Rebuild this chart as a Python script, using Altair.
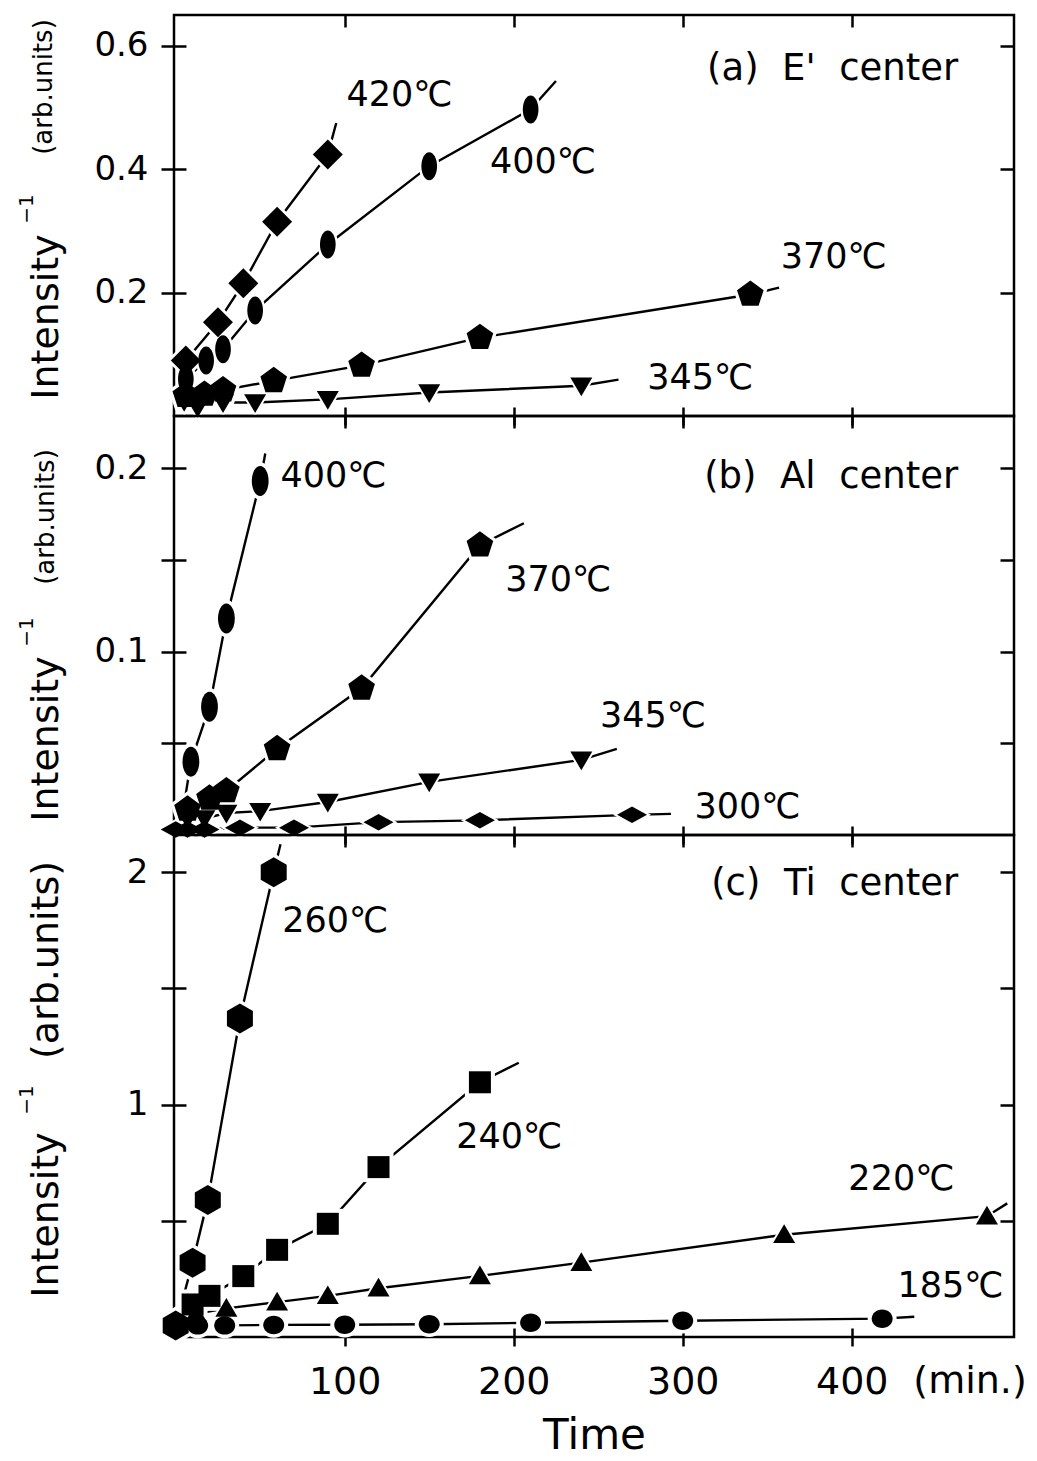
import altair as alt
import pandas as pd

FONT = "DejaVu Sans"

# ---------------- data ----------------
# x = time (min), y = Intensity^-1 (arb. units)

# (a) E' center
a420_x = [6, 25, 40, 60, 90]
a420_y = [0.090, 0.152, 0.215, 0.315, 0.424]
a400_x = [6, 18, 28, 47, 90, 150, 210]
a400_y = [0.060, 0.090, 0.108, 0.171, 0.278, 0.405, 0.497]
a370_x = [6, 17, 28, 58, 110, 180, 340]
a370_y = [0.033, 0.035, 0.042, 0.057, 0.082, 0.127, 0.197]
a345_x = [5, 13, 28, 47, 90, 150, 240]
a345_y = [0.024, 0.014, 0.022, 0.022, 0.027, 0.038, 0.049]
a_end = {"420": (95, 0.475), "400": (225, 0.543), "370": (357, 0.208), "345": (262, 0.059)}

# (b) Al center
b400_x = [9, 20, 30, 50]
b400_y = [0.040, 0.070, 0.118, 0.193]
b370_x = [7, 20, 30, 60, 110, 180]
b370_y = [0.014, 0.020, 0.024, 0.047, 0.080, 0.158]
b345_x = [7, 17, 30, 50, 90, 150, 240]
b345_y = [0.009, 0.009, 0.012, 0.013, 0.018, 0.029, 0.041]
b300_x = [0, 7, 17, 38, 70, 120, 180, 270]
b300_y = [0.003, 0.003, 0.003, 0.004, 0.004, 0.007, 0.008, 0.011]
b_start = {"400": (4, 0.011)}
b_end = {"400": (53, 0.208), "370": (206, 0.170), "345": (261, 0.047), "300": (293, 0.0115)}

# (c) Ti center
c260_x = [0, 10, 19, 38, 58]
c260_y = [0.05, 0.32, 0.59, 1.37, 2.00]
c240_x = [10, 20, 40, 60, 90, 120, 180]
c240_y = [0.14, 0.177, 0.262, 0.375, 0.487, 0.731, 1.096]
c220_x = [12, 30, 60, 90, 120, 180, 240, 360, 480]
c220_y = [0.10, 0.123, 0.15, 0.177, 0.21, 0.263, 0.32, 0.44, 0.52]
c185_x = [0, 13, 29, 58, 100, 150, 210, 300, 418]
c185_y = [0.05, 0.05, 0.05, 0.052, 0.053, 0.055, 0.061, 0.070, 0.079]
c_end = {"260": (62, 2.12), "240": (203, 1.18), "220": (492, 0.575), "185": (437, 0.087)}

# temperature labels (text, x, y)
a_lab = [("420℃", 101, 0.52), ("400℃", 186, 0.412), ("370℃", 358, 0.258), ("345℃", 279, 0.061)]
b_lab = [("400℃", 62, 0.196), ("370℃", 195, 0.139), ("345℃", 251, 0.065), ("300℃", 307, 0.015)]
c_lab = [("260℃", 63, 1.79), ("240℃", 166, 0.86), ("220℃", 398, 0.68), ("185℃", 427, 0.22)]

NB = "\u00a0"
a_title = [(f"(a){NB}{NB}E'{NB}{NB}center", 463, 0.562)]
b_title = [(f"(b){NB}{NB}Al{NB}{NB}center", 463, 0.195)]
c_title = [(f"(c){NB}{NB}Ti{NB}{NB}center", 463, 1.95)]

x_ticks = [100, 200, 300, 400]
a_yticks = [0.2, 0.4, 0.6]
b_yticks = [0.05, 0.1, 0.15, 0.2]
c_yticks = [0.5, 1.0, 1.5, 2.0]

# ---------------- styles ----------------
SHAPES = {
    "diamond": "M0,-1L1,0L0,1L-1,0Z",
    "flatdiamond": "M-1,0L0,-0.55L1,0L0,0.55Z",
    "ellipse": "M0,-1A0.56,1,0,1,1,0,1A0.56,1,0,1,1,0,-1Z",
    "pentagon": "M0,-1L0.951,-0.309L0.588,0.809L-0.588,0.809L-0.951,-0.309Z",
    "tridown": "M-1,-0.75L1,-0.75L0,0.95Z",
    "triup": "M-1,0.75L1,0.75L0,-0.95Z",
    "hexagon": "M0,-1L0.866,-0.5L0.866,0.5L0,1L-0.866,0.5L-0.866,-0.5Z",
    "square": "M-1,-1L1,-1L1,1L-1,1Z",
    "circle": "M-1,0A1,0.88,0,1,1,1,0A1,0.88,0,1,1,-1,0Z",
}

W = 840
XDOM = [-1, 496]


def series(name, xs, ys, shape, w, start=None, end=None):
    return dict(name=name, x=xs, y=ys, shape=shape, w=w, start=start, end=end)


def build(sers):
    pts, lns = [], []
    for s in sers:
        for xi, yi in zip(s["x"], s["y"]):
            pts.append(dict(series=s["name"], t=xi, v=yi, shape=SHAPES[s["shape"]],
                            size=s["w"] ** 2, halo=(s["w"] + 8) ** 2))
        seq = ([s["start"]] if s["start"] else []) + list(zip(s["x"], s["y"])) + \
              ([s["end"]] if s["end"] else [])
        for k, (xi, yi) in enumerate(seq):
            lns.append(dict(series=s["name"], t=xi, v=yi, ord=k))
    return pd.DataFrame(pts), pd.DataFrame(lns)


def panel(sers, labels, ptitle, H, ymax, yvals, ylab_expr, bottom, ytitle, extra=None):
    pts, lns = build(sers)
    xs = alt.Scale(domain=XDOM, nice=False, zero=False)
    ys = alt.Scale(domain=[0, ymax], nice=False, zero=False)
    common = dict(tickColor="black", tickWidth=2.5, domain=False, grid=False)
    x_main = alt.Axis(values=x_ticks, orient="bottom", tickSize=9, labels=bottom,
                      labelFont=FONT, labelFontSize=38, labelColor="black", labelPadding=17,
                      title=("Time" if bottom else None), titleFont=FONT, titleFontSize=42,
                      titleFontWeight="normal", titleColor="black", titlePadding=14, **common)
    x_in_b = alt.Axis(values=x_ticks, orient="top", offset=-H, tickSize=9, labels=False,
                      title=None, **common)
    x_in_t = alt.Axis(values=x_ticks, orient="bottom", offset=-H, tickSize=12, labels=False,
                      title=None, **common)
    y_main = alt.Axis(values=yvals, orient="left", tickSize=13, labelExpr=ylab_expr,
                      labelFont=FONT, labelFontSize=34, labelColor="black", labelPadding=13,
                      title=None, **common)
    y_in_l = alt.Axis(values=yvals, orient="right", offset=-W, tickSize=12, labels=False,
                      title=None, **common)
    y_in_r = alt.Axis(values=yvals, orient="left", offset=-W, tickSize=14, labels=False,
                      title=None, **common)

    lines = alt.Chart(lns).mark_line(color="black", strokeWidth=2.4).encode(
        x=alt.X("t:Q", scale=xs, axis=x_main),
        y=alt.Y("v:Q", scale=ys, axis=y_main),
        detail="series:N", order="ord:Q")
    halo = alt.Chart(pts).mark_point(filled=True, color="white", opacity=1).encode(
        x=alt.X("t:Q", scale=xs, axis=x_in_b),
        y=alt.Y("v:Q", scale=ys, axis=y_in_l),
        shape=alt.Shape("shape:N", scale=None),
        size=alt.Size("halo:Q", scale=None))
    dots = alt.Chart(pts).mark_point(filled=True, color="black", opacity=1).encode(
        x=alt.X("t:Q", scale=xs, axis=x_in_t),
        y=alt.Y("v:Q", scale=ys, axis=y_in_r),
        shape=alt.Shape("shape:N", scale=None),
        size=alt.Size("size:Q", scale=None))
    ldf = pd.DataFrame(labels, columns=["label", "t", "v"])
    temps = alt.Chart(ldf).mark_text(align="left", baseline="middle", font=FONT, fontSize=35,
                                     color="black").encode(
        x=alt.X("t:Q", scale=xs, axis=None), y=alt.Y("v:Q", scale=ys, axis=None),
        text="label:N")
    tdf = pd.DataFrame(ptitle, columns=["label", "t", "v"])
    ttl = alt.Chart(tdf).mark_text(align="right", baseline="middle", font=FONT, fontSize=37,
                                   color="black").encode(
        x=alt.X("t:Q", scale=xs, axis=None), y=alt.Y("v:Q", scale=ys, axis=None),
        text="label:N")
    layers = [lines, halo, dots, temps, ttl]
    for txt, fs, px, py in ytitle:
        layers.append(
            alt.Chart(pd.DataFrame({"label": [txt]})).mark_text(
                angle=270, align="center", baseline="alphabetic", font=FONT, fontSize=fs,
                color="black").encode(x=alt.value(px), y=alt.value(py), text="label:N"))
    if extra:
        layers += extra(H)
    return alt.layer(*layers).resolve_axis(x="independent", y="independent").properties(
        width=W, height=H)


pa = panel(
    [series("420", a420_x, a420_y, "diamond", 30, end=a_end["420"]),
     series("400", a400_x, a400_y, "ellipse", 28, end=a_end["400"]),
     series("370", a370_x, a370_y, "pentagon", 28, end=a_end["370"]),
     series("345", a345_x, a345_y, "tridown", 22, end=a_end["345"])],
    a_lab, a_title, 401, 0.65, a_yticks, "format(datum.value, '.1f')", False,
    [("Intensity", 38, -116, 302), ("−1", 20, -141, 194), ("(arb.units)", 26, -122, 72)])

pb = panel(
    [series("400", b400_x, b400_y, "ellipse", 30, start=b_start["400"], end=b_end["400"]),
     series("370", b370_x, b370_y, "pentagon", 28, end=b_end["370"]),
     series("345", b345_x, b345_y, "tridown", 22, end=b_end["345"]),
     series("300", b300_x, b300_y, "flatdiamond", 30, end=b_end["300"])],
    b_lab, b_title, 419, 0.2285, b_yticks,
    "(datum.value == 0.1 || datum.value == 0.2) ? format(datum.value, '.1f') : ''", False,
    [("Intensity", 38, -116, 323), ("−1", 20, -141, 216), ("(arb.units)", 26, -120, 101)])


def min_label(H):
    return [alt.Chart(pd.DataFrame({"label": ["(min.)"]})).mark_text(
        align="center", baseline="top", font=FONT, fontSize=38, color="black").encode(
        x=alt.value(796), y=alt.value(H + 26), text="label:N")]


pc = panel(
    [series("260", c260_x, c260_y, "hexagon", 30, end=c_end["260"]),
     series("240", c240_x, c240_y, "square", 22, end=c_end["240"]),
     series("220", c220_x, c220_y, "triup", 22, end=c_end["220"]),
     series("185", c185_x, c185_y, "circle", 21, end=c_end["185"])],
    c_lab, c_title, 502, 2.16, c_yticks,
    "(datum.value == 1 || datum.value == 2) ? format(datum.value, 'd') : ''", True,
    [("Intensity", 38, -116, 380), ("−1", 20, -141, 265), ("(arb.units)", 38, -116, 125)],
    extra=min_label)

chart = alt.vconcat(pa, pb, pc, spacing=0, bounds="flush").properties(
    padding={"left": 15, "top": 12, "right": 5, "bottom": 5},
    background="white",
).configure_view(stroke="black", strokeWidth=2.5).configure_concat(spacing=0)

chart.save("out.html", embed_options={"renderer": "svg", "actions": False})
